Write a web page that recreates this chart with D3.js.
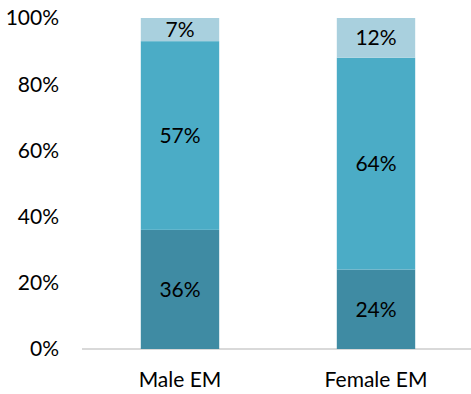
<!DOCTYPE html>
<html><head><meta charset="utf-8">
<script src="https://cdn.jsdelivr.net/npm/d3@7"></script>
<style>body{margin:0;background:#fff}svg{display:block}</style>
</head><body>
<svg id="c" width="471" height="394"></svg>
<script>
const categories = ["Male EM", "Female EM"];
const seriesNames = ["bottom", "middle", "top"];
const bottomValues = [36, 24];
const middleValues = [57, 64];
const topValues = [7, 12];
const yTicks = [0, 20, 40, 60, 80, 100];
const colors = ["#3F8BA3", "#4BACC6", "#A9D0DE"];

const svg = d3.select("#c");
const margin = {left: 82, right: -3, top: 18, bottom: 45};
const W = 471, H = 394;
const x = d3.scaleBand().domain(categories).range([margin.left, W - margin.right]).paddingInner(0.6).paddingOuter(0.3);
const y = d3.scaleLinear().domain([0, 100]).range([H - margin.bottom, margin.top]);

const table = categories.map((c, i) => ({cat: c, bottom: bottomValues[i], middle: middleValues[i], top: topValues[i]}));
const stack = d3.stack().keys(seriesNames)(table);

const font = "Lato, 'Open Sans', sans-serif";
const fs = 21;

// axis line
svg.append("line").attr("x1", margin.left).attr("x2", W).attr("y1", y(0)).attr("y2", y(0))
  .attr("stroke", "#D9D9D9").attr("stroke-width", 2);

// y tick labels
svg.append("g").selectAll("text").data(yTicks).join("text")
  .attr("x", 59).attr("y", d => y(d)).attr("dy", "0.35em")
  .attr("text-anchor", "end").attr("font-family", font).attr("font-size", fs).attr("fill", "#000")
  .text(d => d + "%");

const layers = svg.append("g").selectAll("g").data(stack).join("g").attr("fill", (d, i) => colors[i]);
layers.selectAll("rect").data(d => d).join("rect")
  .attr("x", d => x(d.data.cat)).attr("width", x.bandwidth())
  .attr("y", d => y(d[1])).attr("height", d => y(d[0]) - y(d[1]));

// data labels
svg.append("g").selectAll("g").data(stack).join("g").selectAll("text").data(d => d).join("text")
  .attr("x", d => x(d.data.cat) + x.bandwidth() / 2)
  .attr("y", d => (y(d[0]) + y(d[1])) / 2).attr("dy", "0.35em")
  .attr("text-anchor", "middle").attr("font-family", font).attr("font-size", fs).attr("fill", "#000")
  .text(d => (d[1] - d[0]) + "%");

// x labels
svg.append("g").selectAll("text").data(categories).join("text")
  .attr("x", d => x(d) + x.bandwidth() / 2).attr("y", 387)
  .attr("text-anchor", "middle").attr("font-family", font).attr("font-size", fs).attr("fill", "#000")
  .text(d => d);
</script>
</body></html>
